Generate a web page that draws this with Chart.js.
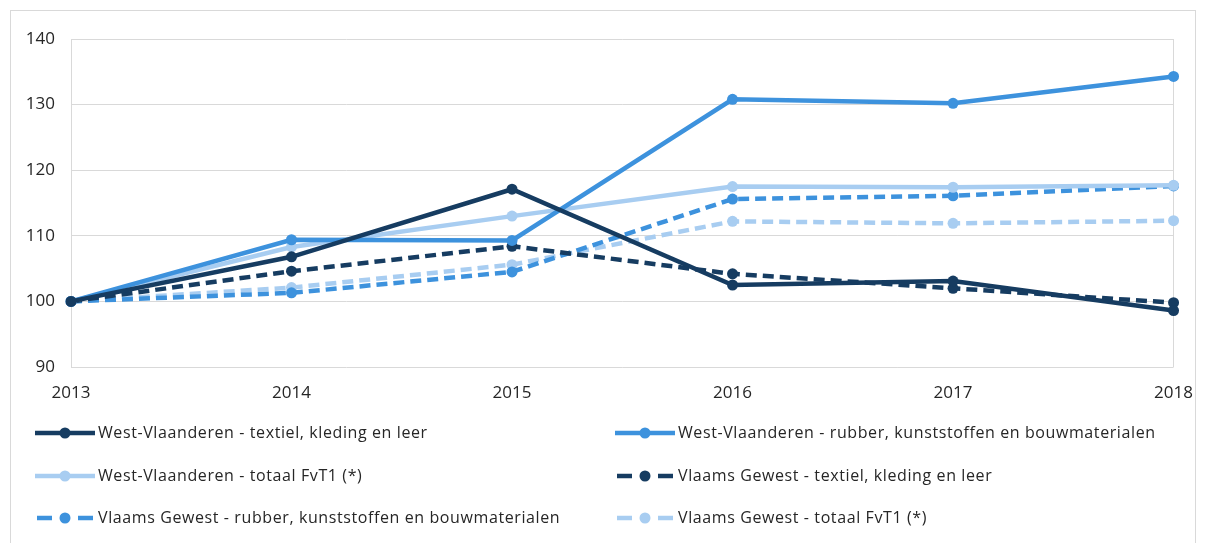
<!DOCTYPE html>
<html>
<head>
<meta charset="utf-8">
<script src="https://cdn.jsdelivr.net/npm/chart.js@4"></script>
<style>
  html, body { margin: 0; padding: 0; background: #fff; }
  #wrap { position: relative; width: 1209px; height: 543px; }
  #frame { position: absolute; left: 10px; top: 10px; width: 1186px; height: 540px; border: 1px solid #d9d9d9; box-sizing: border-box; }
  canvas { position: absolute; left: 0; top: 0; }
</style>
</head>
<body>
<div id="wrap">
  <div id="frame"></div>
  <canvas id="chart" width="1209" height="543"></canvas>
</div>
<script>
// data
const years = ['2013', '2014', '2015', '2016', '2017', '2018'];
const wvTextiel = [100, 106.8, 117.1, 102.5, 103.1, 98.6];
const wvRubber = [100, 109.4, 109.3, 130.8, 130.2, 134.3];
const wvTotaal = [100, 108.3, 113.0, 117.5, 117.4, 117.7];
const vgTextiel = [100, 104.6, 108.4, 104.2, 102.0, 99.8];
const vgRubber = [100, 101.3, 104.5, 115.6, 116.1, 117.6];
const vgTotaal = [100, 102.1, 105.6, 112.2, 111.9, 112.3];
const yTicks = [90, 100, 110, 120, 130, 140];

const DARK = '#163c61';
const MID = '#3d92dd';
const LIGHT = '#a8cdf1';
const FONT = "'Open Sans', 'Noto Sans', sans-serif";

function series(label, data, color, dashed) {
  return {
    label: label,
    data: data,
    borderColor: color,
    backgroundColor: color,
    borderWidth: 4.5,
    borderDash: dashed ? [11, 6] : [],
    pointRadius: 5.5,
    pointHoverRadius: 5.5,
    pointBorderWidth: 0,
    tension: 0,
    dashed: dashed
  };
}

const datasets = [
  series('West-Vlaanderen - textiel, kleding en leer', wvTextiel, DARK, false),
  series('West-Vlaanderen - rubber, kunststoffen en bouwmaterialen', wvRubber, MID, false),
  series('West-Vlaanderen - totaal FvT1 (*)', wvTotaal, LIGHT, false),
  series('Vlaams Gewest - textiel, kleding en leer', vgTextiel, DARK, true),
  series('Vlaams Gewest - rubber, kunststoffen en bouwmaterialen', vgRubber, MID, true),
  series('Vlaams Gewest - totaal FvT1 (*)', vgTotaal, LIGHT, true)
];

// legend in two columns, drawn under the plot
const gridLegend = {
  id: 'gridLegend',
  afterDraw(chart) {
    const ctx = chart.ctx;
    const cols = [35, 615];
    const rows = [433, 476, 518];
    ctx.save();
    chart.data.datasets.forEach((ds, i) => {
      const x = cols[i % 2];
      const y = rows[Math.floor(i / 2)];
      ctx.strokeStyle = ds.borderColor;
      ctx.fillStyle = ds.borderColor;
      ctx.lineWidth = 4.5;
      if (ds.dashed) {
        ctx.lineCap = 'butt';
        ctx.beginPath();
        ctx.moveTo(x + 2, y); ctx.lineTo(x + 17, y);
        ctx.moveTo(x + 43, y); ctx.lineTo(x + 58, y);
        ctx.stroke();
      } else {
        ctx.beginPath();
        ctx.moveTo(x, y); ctx.lineTo(x + 60, y);
        ctx.stroke();
      }
      ctx.beginPath();
      ctx.arc(x + 30, y, 5.5, 0, Math.PI * 2);
      ctx.fill();
      ctx.fillStyle = '#262626';
      ctx.font = '16px ' + FONT;
      ctx.letterSpacing = '0.6px';
      ctx.textBaseline = 'middle';
      ctx.textAlign = 'left';
      ctx.fillText(ds.label, x + 63, y);
    });
    ctx.restore();
  }
};

new Chart(document.getElementById('chart'), {
  type: 'line',
  data: { labels: years, datasets: datasets },
  options: {
    responsive: false,
    animation: false,
    events: [],
    layout: { padding: { left: 0, top: 39, right: 31, bottom: 120 } },
    plugins: { legend: { display: false }, tooltip: { enabled: false } },
    scales: {
      x: {
        type: 'category',
        offset: false,
        afterFit(scale) { scale.height = 56; },
        grid: {
          drawTicks: false,
          color: ctx => (ctx.index === 0 || ctx.index === years.length - 1) ? '#d9d9d9' : 'rgba(0,0,0,0)'
        },
        border: { display: false },
        ticks: { color: '#262626', font: { family: FONT, size: 17 }, padding: 16, maxRotation: 0 }
      },
      y: {
        min: yTicks[0],
        max: yTicks[yTicks.length - 1],
        afterFit(scale) { scale.width = 71; },
        afterBuildTicks(scale) { scale.ticks = yTicks.map(v => ({ value: v })); },
        grid: { drawTicks: false, color: '#d9d9d9', lineWidth: 1 },
        border: { display: false },
        ticks: { color: '#262626', font: { family: FONT, size: 17 }, padding: 16 }
      }
    }
  },
  plugins: [gridLegend]
});
</script>
</body>
</html>
